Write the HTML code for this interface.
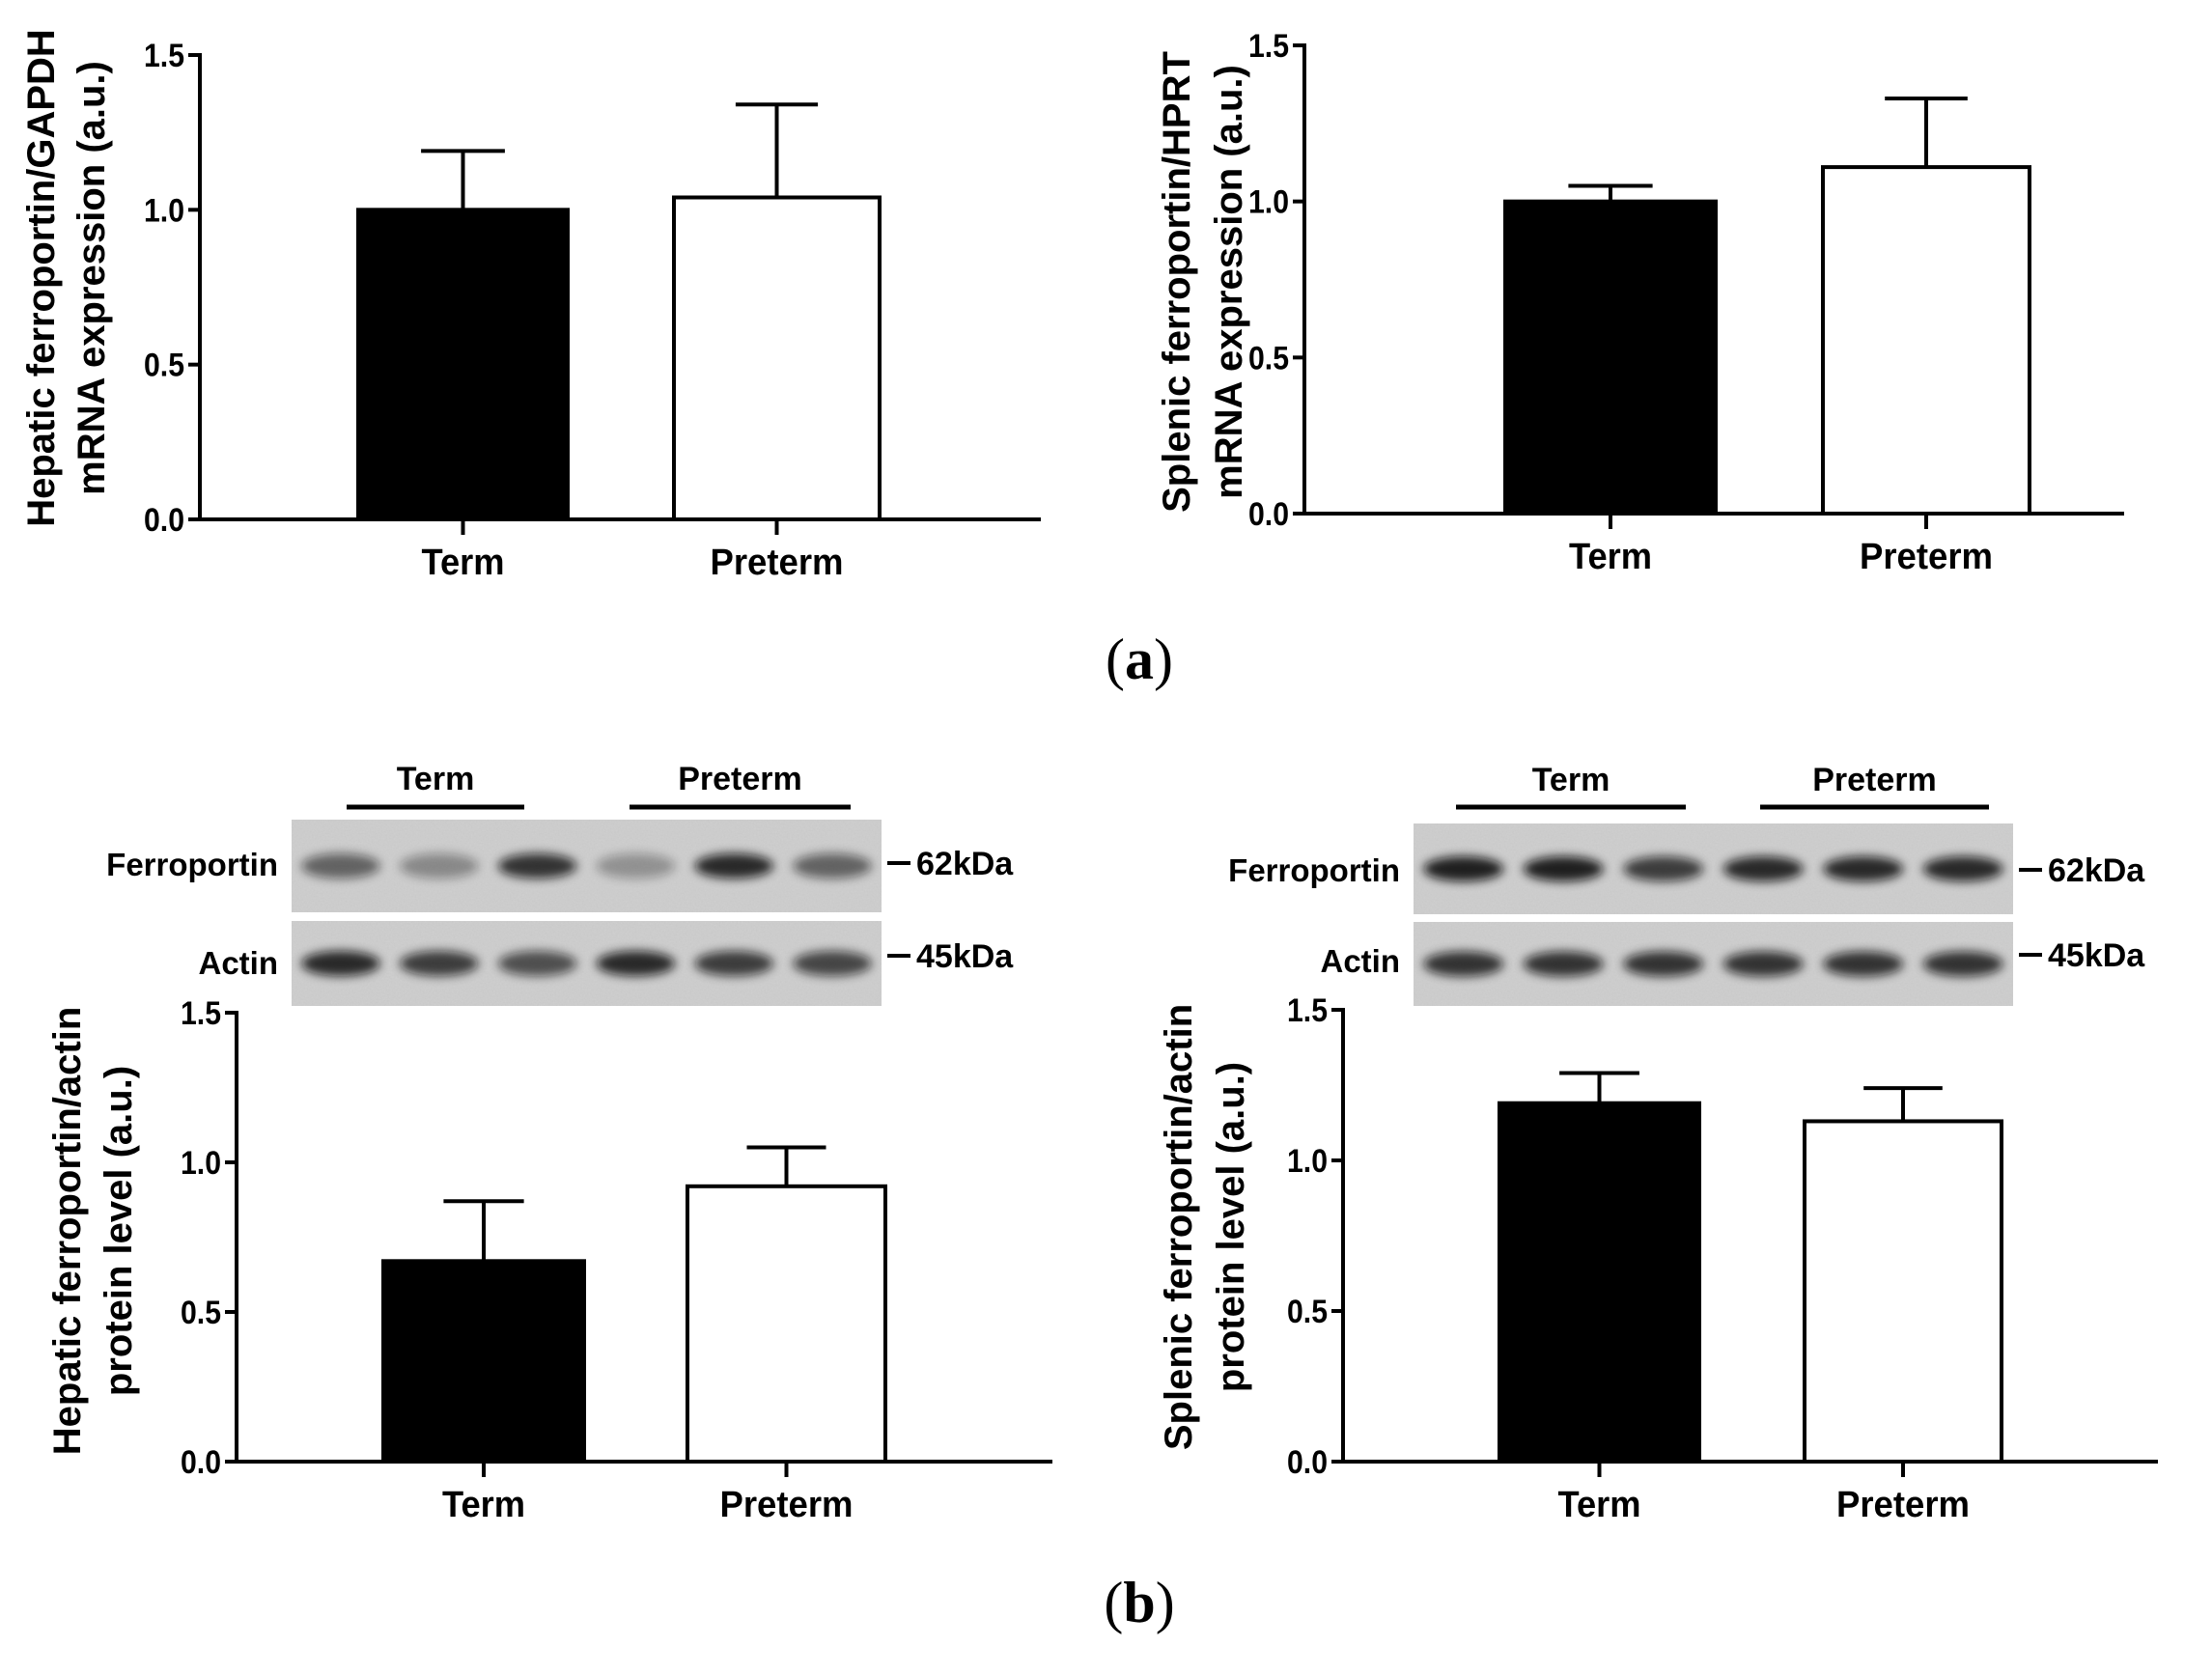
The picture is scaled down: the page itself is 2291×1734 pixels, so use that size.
<!DOCTYPE html>
<html><head><meta charset="utf-8"><style>
html,body{margin:0;padding:0;background:#fff;}
svg{display:block;font-family:"Liberation Sans",Arial,sans-serif;}
</style></head><body>
<svg id="fig" width="2291" height="1734" viewBox="0 0 2291 1734" xmlns="http://www.w3.org/2000/svg">
<defs>
<filter id="blur" x="-30%" y="-80%" width="160%" height="260%"><feGaussianBlur stdDeviation="5"/></filter>
<filter id="noise" x="0" y="0" width="1" height="1"><feTurbulence type="fractalNoise" baseFrequency="0.6" numOctaves="2" seed="3"/><feColorMatrix type="matrix" values="0 0 0 0 0.5  0 0 0 0 0.5  0 0 0 0 0.5  0 0 0 0.4 0"/></filter>
</defs>
<text x="1180" y="703" font-family="Liberation Serif,serif" font-size="60" text-anchor="middle">(<tspan font-weight="bold">a</tspan>)</text>
<text x="1180" y="1680" font-family="Liberation Serif,serif" font-size="60" text-anchor="middle">(<tspan font-weight="bold">b</tspan>)</text>
</svg>
<script>
// ---- data ----
const categories = ["Term", "Preterm"];
const tickValues = [0.0, 0.5, 1.0, 1.5];
const tickLabels = ["0.0", "0.5", "1.0", "1.5"];
const hepMrnaMeans = [1.0, 1.04];
const hepMrnaErr = [0.19, 0.30];
const splMrnaMeans = [1.0, 1.11];
const splMrnaErr = [0.05, 0.22];
const hepProtMeans = [0.67, 0.92];
const hepProtErr = [0.20, 0.13];
const splProtMeans = [1.19, 1.13];
const splProtErr = [0.10, 0.11];
const hepFerroBands = [0.55, 0.35, 0.8, 0.3, 0.85, 0.55];
const hepActinBands = [0.85, 0.75, 0.65, 0.85, 0.75, 0.7];
const splFerroBands = [0.9, 0.9, 0.75, 0.85, 0.85, 0.85];
const splActinBands = [0.8, 0.8, 0.8, 0.8, 0.8, 0.8];

const NS = "http://www.w3.org/2000/svg";
const svg = document.getElementById("fig");
function mk(tag, attrs, parent) {
  const e = document.createElementNS(NS, tag);
  for (const k in attrs) e.setAttribute(k, attrs[k]);
  (parent || svg).appendChild(e);
  return e;
}

function chart(cfg) {
  const g = mk("g", {});
  
  
  const y = v => cfg.y0 - (v / 1.5) * (cfg.y0 - cfg.y1);
  cfg.means.forEach((m, i) => {
    const [l, r] = cfg.barX[i];
    const cx = (l + r) / 2;
    const et = y(m + cfg.err[i]);
    const hw = (r - l) * 0.2;
    const eb = mk("line", {x1: cx, x2: cx, y1: y(m), y2: et, stroke: "#000", "stroke-width": 4}, g);
    
    
    const cap = mk("line", {x1: cx - hw, x2: cx + hw, y1: et, y2: et, stroke: "#000", "stroke-width": 4}, g);
    
    
    const b = mk("rect", {x: l, y: y(m), width: r - l, height: cfg.y0 - y(m), fill: i === 0 ? "#000" : "#fff", stroke: "#000", "stroke-width": 4}, g);
    
    
    const t = mk("line", {x1: cx, x2: cx, y1: cfg.y0, y2: cfg.y0 + 16, stroke: "#000", "stroke-width": 4}, g);
    
    
    const lb = mk("text", {x: cx, y: cfg.y0 + 57, "font-size": 38, "font-weight": "bold", "text-anchor": "middle", textLength: i === 0 ? 86 : 138, lengthAdjust: "spacingAndGlyphs"}, g);
    lb.textContent = categories[i];
    
    
  });
  const ya = mk("line", {x1: cfg.ax, x2: cfg.ax, y1: cfg.y1 - 2, y2: cfg.y0 + 2, stroke: "#000", "stroke-width": 4}, g);
  
  
  const xa = mk("line", {x1: cfg.ax - 2, x2: cfg.xEnd, y1: cfg.y0, y2: cfg.y0, stroke: "#000", "stroke-width": 4}, g);
  
  
  tickValues.forEach((v, i) => {
    const tk = mk("line", {x1: cfg.ax - 12, x2: cfg.ax, y1: y(v), y2: y(v), stroke: "#000", "stroke-width": 4}, g);
    
    
    const tl = mk("text", {x: cfg.ax - 16, y: y(v) + 12, "font-size": 34, "font-weight": "bold", "text-anchor": "end", textLength: 42, lengthAdjust: "spacingAndGlyphs"}, g);
    tl.textContent = tickLabels[i];
    
    
  });
  cfg.title.forEach((line, i) => {
    const tx = cfg.titleX[i];
    const t = mk("text", {x: tx, y: cfg.titleY, "font-size": 40, "font-weight": "bold", "text-anchor": "middle", transform: `rotate(-90 ${tx} ${cfg.titleY})`}, g);
    t.textContent = line;
    
    
  });
}

chart({name: "hepatic-mrna-chart", ax: 207, y1: 57, y0: 538, xEnd: 1078, barX: [[371, 588], [698, 911]], means: hepMrnaMeans, err: hepMrnaErr, title: ["Hepatic ferroportin/GAPDH", "mRNA expression (a.u.)"], titleX: [56, 108], titleY: 288});
chart({name: "splenic-mrna-chart", ax: 1351, y1: 47, y0: 532, xEnd: 2200, barX: [[1559, 1777], [1888, 2102]], means: splMrnaMeans, err: splMrnaErr, title: ["Splenic ferroportin/HPRT", "mRNA expression (a.u.)"], titleX: [1232, 1286], titleY: 292});
chart({name: "hepatic-protein-chart", ax: 245, y1: 1049, y0: 1514, xEnd: 1090, barX: [[397, 605], [712, 917]], means: hepProtMeans, err: hepProtErr, title: ["Hepatic ferroportin/actin", "protein level (a.u.)"], titleX: [83, 136], titleY: 1275});
chart({name: "splenic-protein-chart", ax: 1391, y1: 1046, y0: 1514, xEnd: 2235, barX: [[1553, 1760], [1869, 2073]], means: splProtMeans, err: splProtErr, title: ["Splenic ferroportin/actin", "protein level (a.u.)"], titleX: [1234, 1288], titleY: 1271});

function blot(cfg) {
  const g = mk("g", {});
  
  
  const rows = [[cfg.r1, cfg.ferro, "ferroportin"], [cfg.r2, cfg.actin, "actin"]];
  rows.forEach(([r, bands, nm]) => {
    const bg = mk("rect", {x: cfg.x0, y: r[0], width: cfg.x1 - cfg.x0, height: r[1] - r[0], fill: "#d0d0d0"}, g);
    
    
    mk("rect", {x: cfg.x0, y: r[0], width: cfg.x1 - cfg.x0, height: r[1] - r[0], filter: "url(#noise)"}, g);
    const lw = (cfg.x1 - cfg.x0) / 6;
    bands.forEach((a, i) => {
      const band = mk("ellipse", {cx: cfg.x0 + lw * (i + 0.5), cy: (r[0] + r[1]) / 2, rx: lw * 0.4, ry: 13, fill: "#111", opacity: a, filter: "url(#blur)"}, g);
      
      
    });
  });
  const groups = [["Term", cfg.tl], ["Preterm", cfg.pl]];
  groups.forEach(([lab, [a, b]]) => {
    const ln = mk("line", {x1: a, x2: b, y1: 836, y2: 836, stroke: "#000", "stroke-width": 5}, g);
    
    
    const t = mk("text", {x: (a + b) / 2, y: cfg.gy, "font-size": 34, "font-weight": "bold", "text-anchor": "middle"}, g);
    t.textContent = lab;
    
    
  });
  const labs = [["Ferroportin", cfg.fy, "62kDa", cfg.ky1], ["Actin", cfg.ay, "45kDa", cfg.ky2]];
  labs.forEach(([n, yy, kd, ky]) => {
    const t = mk("text", {x: cfg.x0 - 14, y: yy, "font-size": 33, "font-weight": "bold", "text-anchor": "end"}, g);
    t.textContent = n;
    
    
    const m = mk("line", {x1: cfg.x1 + 6, x2: cfg.x1 + 30, y1: ky, y2: ky, stroke: "#000", "stroke-width": 4}, g);
    
    
    const k = mk("text", {x: cfg.x1 + 36, y: ky + 12, "font-size": 34, "font-weight": "bold"}, g);
    k.textContent = kd;
    
    
  });
}
blot({name: "hepatic-western-blot", x0: 302, x1: 913, r1: [849, 945], r2: [954, 1042], ferro: hepFerroBands, actin: hepActinBands, tl: [359, 543], pl: [652, 881], gy: 818, fy: 907, ay: 1009, ky1: 894, ky2: 990});
blot({name: "splenic-western-blot", x0: 1464, x1: 2085, r1: [853, 947], r2: [955, 1042], ferro: splFerroBands, actin: splActinBands, tl: [1508, 1746], pl: [1823, 2060], gy: 819, fy: 913, ay: 1007, ky1: 901, ky2: 989});
</script>
</body></html>
